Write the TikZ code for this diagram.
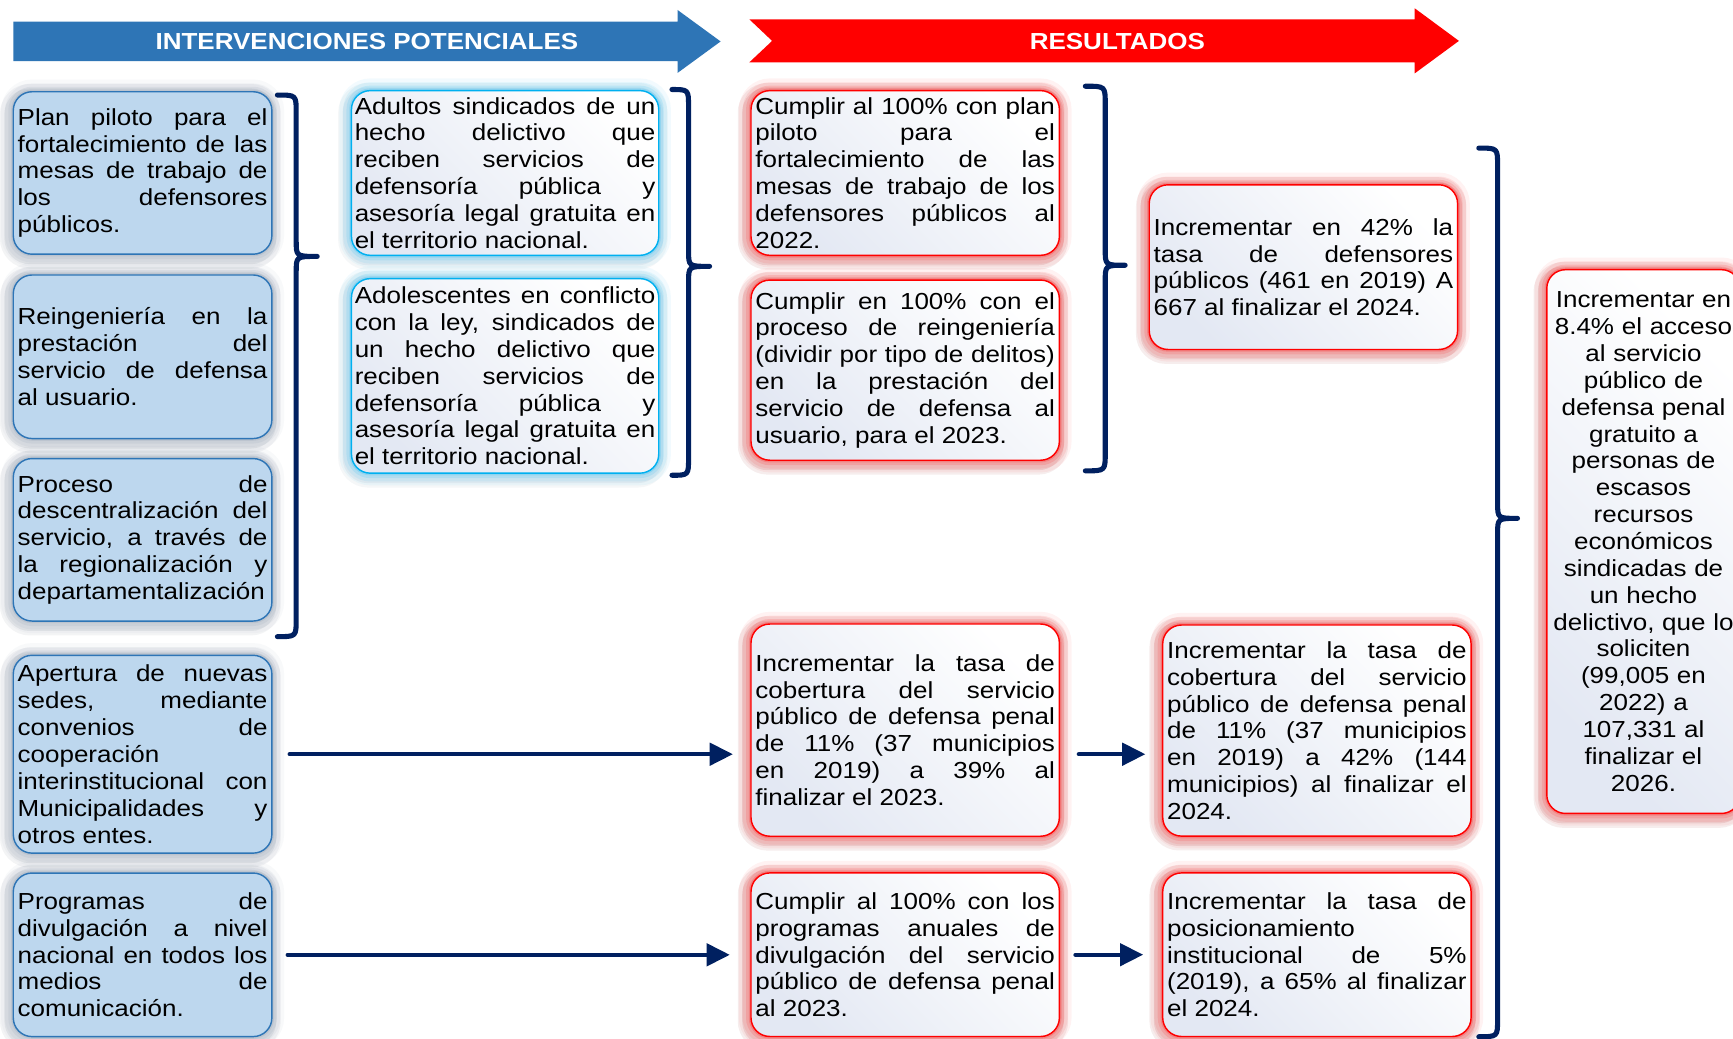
\documentclass[tikz,border=0pt]{standalone}
\usepackage{fontspec}
\setmainfont{Liberation Sans}[FakeStretch=1.12]
\usetikzlibrary{arrows.meta}
\definecolor{hdrblue}{HTML}{2E75B6}
\definecolor{boxblue}{HTML}{BDD7EE}
\definecolor{navy}{HTML}{002060}
\definecolor{cyanb}{HTML}{00B0F0}
\definecolor{shadeb}{HTML}{E3E8F3}
\definecolor{glowblue}{HTML}{7F8FA8}
\newcommand\mybrace[6]{\draw[brace] (#1,#4) .. controls (#2,#4) .. (#2,#4+16) -- (#2,#5-14) .. controls (#2,#5) .. (#3,#5) .. controls (#2,#5) .. (#2,#5+14) -- (#2,#6-16) .. controls (#2,#6) .. (#1,#6);}
\tikzset{
  every node/.style={font=\fontsize{21pt}{24.3pt}\selectfont},
  glow/.style 2 args={
     preaction={draw=#2,line width=20pt,opacity=0.07,transform canvas={shift={(-2pt,-3pt)}}},
     preaction={draw=#2,line width=12pt,opacity=0.10,transform canvas={shift={(-2pt,-3pt)}}},
     preaction={draw=#1,line width=22pt,opacity=0.05},
     preaction={draw=#1,line width=15pt,opacity=0.08},
     preaction={draw=#1,line width=9pt,opacity=0.12},
     preaction={draw=#1,line width=4pt,opacity=0.18}},
  basebox/.style={rounded corners=17pt, inner xsep=4pt, inner ysep=2pt, align=justify, line width=1.3pt},
  whitefill/.style={top color=white, bottom color=shadeb, shading angle=-45},
  bluebox/.style={basebox, draw=hdrblue, fill=boxblue,
     glow={glowblue}{glowblue!70!black}, minimum width=234pt, text width=226pt},
  cyanbox/.style={basebox, draw=cyanb, glow={cyanb}{glowblue}, whitefill,
     inner xsep=3pt, minimum width=278pt, text width=272pt},
  redbox/.style={basebox, draw=red,
     glow={red}{red!55!black}, whitefill, minimum width=279pt, text width=271pt},
  brace/.style={draw=navy, line width=4.6pt, line cap=round, line join=round},
  conn/.style={draw=navy, line width=4pt, line cap=round, -{Triangle[length=21pt,width=20pt]}},
  hdrtext/.style={text=white, font=\fontsize{21pt}{24pt}\selectfont\bfseries},
}
\begin{document}
\setlength{\parindent}{0pt}\hyphenpenalty=10000 \tolerance=10000 \hbadness=10000
\begin{tikzpicture}[x=1pt,y=-1pt]
\useasboundingbox (0,0) rectangle (1568,940);
\fill[white] (0,0) rectangle (1568,940);

% header arrows
\fill[hdrblue] (12,19.6) -- (613,19.6) -- (613,9) -- (652,37.5) -- (613,66) -- (613,55.2) -- (12,55.2) -- cycle;
\node[hdrtext, anchor=base] (hdr1) at (332,44.4) {INTERVENCIONES POTENCIALES};
\fill[red] (678,17.5) -- (1280,17.5) -- (1280,7.5) -- (1320,37) -- (1280,66.4) -- (1280,56.4) -- (678,56.4) -- (698.6,37) -- cycle;
\node[hdrtext, anchor=base] (hdr2) at (1011,44.4) {RESULTADOS};

% column 1
\node[bluebox, minimum height=147pt] (b1) at (129,156.5) {Plan piloto para el\linebreak fortalecimiento de las\linebreak mesas de trabajo de\linebreak los defensores\linebreak públicos.};
\node[bluebox, minimum height=148pt] (b2) at (129,322.8) {Reingeniería en la\linebreak prestación del\linebreak servicio de defensa\linebreak al usuario.};
\node[bluebox, minimum height=147pt] (b3) at (129,488.4) {Proceso de\linebreak descentralización del\linebreak servicio, a través de\linebreak la regionalización y\linebreak departamentalización};
\node[bluebox, minimum height=179pt] (b4) at (129,682.4) {Apertura de nuevas\linebreak sedes, mediante\linebreak convenios de\linebreak cooperación\linebreak interinstitucional con\linebreak Municipalidades y\linebreak otros entes.};
\node[bluebox, minimum height=148pt] (b5) at (129,863.9) {Programas de\linebreak divulgación a nivel\linebreak nacional en todos los\linebreak medios de\linebreak comunicación.};

% column 2
\node[cyanbox, minimum height=149pt] (c1) at (457,156.5) {Adultos sindicados de un\linebreak hecho delictivo que\linebreak reciben servicios de\linebreak defensoría pública y\linebreak asesoría legal gratuita en\linebreak el territorio nacional.};
\node[cyanbox, minimum height=176pt] (c2) at (457,340.1) {Adolescentes en conflicto\linebreak con la ley, sindicados de\linebreak un hecho delictivo que\linebreak reciben servicios de\linebreak defensoría pública y\linebreak asesoría legal gratuita en\linebreak el territorio nacional.};

% column 3
\node[redbox, minimum height=149pt] (d1) at (819,156.5) {Cumplir al 100\% con plan\linebreak piloto para el\linebreak fortalecimiento de las\linebreak mesas de trabajo de los\linebreak defensores públicos al\linebreak 2022.};
\node[redbox, minimum height=163pt] (d2) at (819,334.9) {Cumplir en 100\% con el\linebreak proceso de reingeniería\linebreak (dividir por tipo de delitos)\linebreak en la prestación del\linebreak servicio de defensa al\linebreak usuario, para el 2023.};
\node[redbox, minimum height=192pt] (d3) at (819,660.6) {Incrementar la tasa de\linebreak cobertura del servicio\linebreak público de defensa penal\linebreak de 11\% (37 municipios\linebreak en 2019) a 39\% al\linebreak finalizar el 2023.};
\node[redbox, minimum height=148pt] (d4) at (819,863.8) {Cumplir al 100\% con los\linebreak programas anuales de\linebreak divulgación del servicio\linebreak público de defensa penal\linebreak al 2023.};

% column 4
\node[redbox, minimum height=149pt] (e1) at (1179.3,241.7) {Incrementar en 42\% la\linebreak tasa de defensores\linebreak públicos (461 en 2019) A\linebreak 667 al finalizar el 2024.};
\node[redbox, minimum height=191pt] (e2) at (1191.5,661) {Incrementar la tasa de\linebreak cobertura del servicio\linebreak público de defensa penal\linebreak de 11\% (37 municipios\linebreak en 2019) a 42\% (144\linebreak municipios) al finalizar el\linebreak 2024.};
\node[redbox, minimum height=148pt] (e3) at (1191.5,863.8) {Incrementar la tasa de\linebreak posicionamiento\linebreak institucional de 5\%\linebreak (2019), a 65\% al finalizar\linebreak el 2024.};

% final result
\node[redbox, align=center, inner xsep=0pt, text width=175pt, minimum width=175pt, minimum height=492pt] (f) at (1487,490) {Incrementar en\\8.4\% el acceso\\al servicio\\público de\\defensa penal\\gratuito a\\personas de\\escasos\\recursos\\económicos\\sindicadas de\\un hecho\\delictivo, que lo\\soliciten\\(99,005 en\\2022) a\\107,331 al\\finalizar el\\2026.};

% braces
\mybrace{251}{268}{287}{86}{232}{576}
\mybrace{608}{623}{642}{81}{241}{430}
\mybrace{982}{1000}{1018}{78}{240}{426}
\mybrace{1338}{1355}{1373}{134}{469}{938}

% connectors
\draw[conn, shorten <=15.5pt, shorten >=15.7pt] (b4.east) -- (b4.east -| d3.west);
\draw[conn, shorten <=13.7pt, shorten >=18.5pt] (b5.east) -- (b5.east -| d4.west);
\coordinate (a3) at ([yshift=-21.8pt]d3.east);
\draw[conn, shorten <=17pt, shorten >=15pt] (a3) -- (a3 -| e2.west);
\draw[conn, shorten <=14pt, shorten >=17pt] (d4.east) -- (d4.east -| e3.west);
\end{tikzpicture}
\end{document}
